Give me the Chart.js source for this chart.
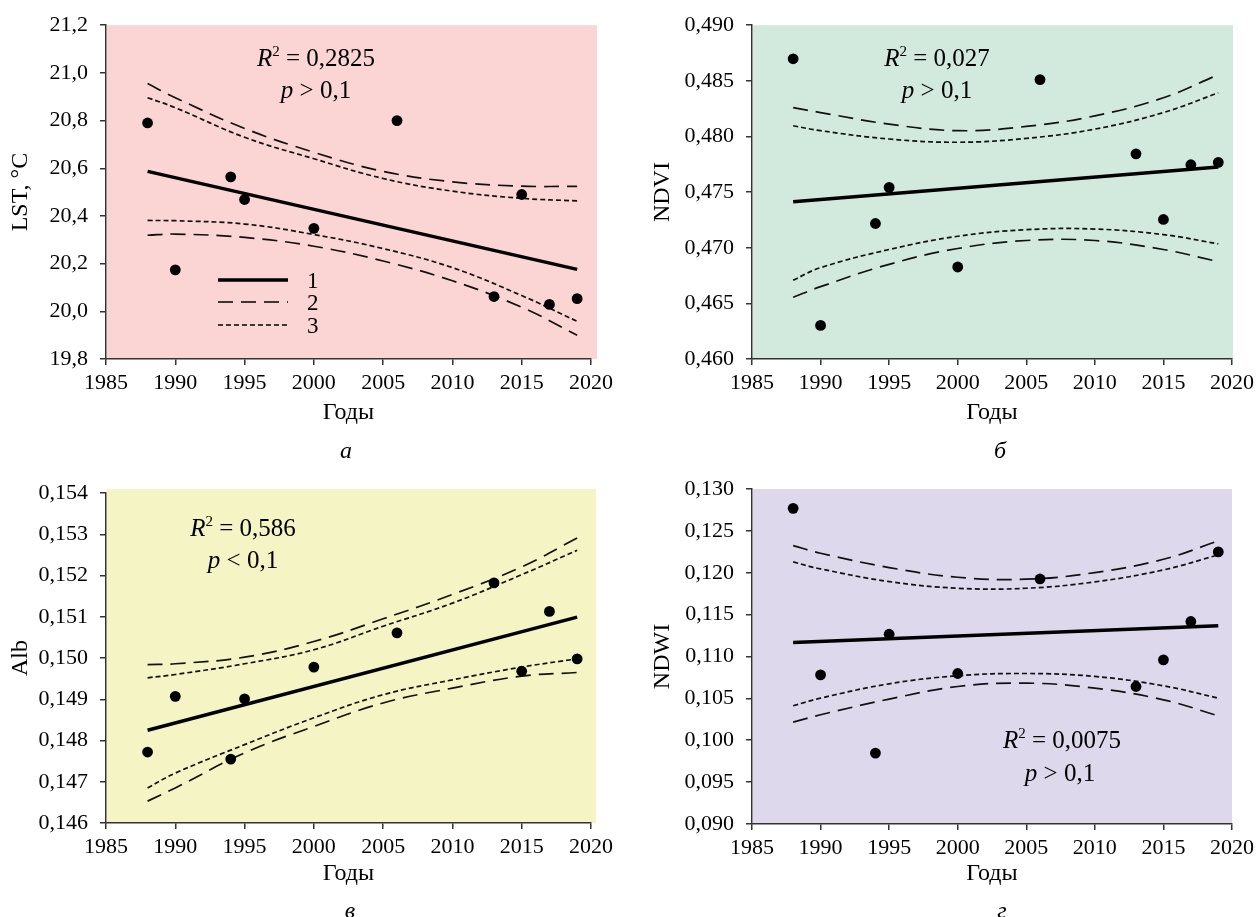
<!DOCTYPE html>
<html><head><meta charset="utf-8">
<script src="https://cdn.jsdelivr.net/npm/chart.js@4"></script>
<style>
body{margin:0;background:#fff;width:1259px;height:917px;overflow:hidden;position:relative}
canvas{position:absolute}
</style></head><body>
<canvas id="ca" width="630" height="460" style="left:0;top:0"></canvas>
<canvas id="cb" width="629" height="460" style="left:630px;top:0"></canvas>
<canvas id="cc" width="630" height="457" style="left:0;top:460px"></canvas>
<canvas id="cd" width="629" height="457" style="left:630px;top:460px"></canvas>
<script>
// ---------- DATA ----------
const years = [1988, 1990, 1994, 1995, 2000, 2006, 2013, 2015, 2017, 2019];
const trendYears = [1988, 2019];
const bandYears = [1988, 1990, 1995, 2000, 2005, 2010, 2015, 2019];
const xTicks = [1985, 1990, 1995, 2000, 2005, 2010, 2015, 2020];

const lstValues = [20.790, 20.174, 20.564, 20.469, 20.348, 20.800, 20.062, 20.490, 20.029, 20.053];
const lstTrend  = [20.587, 20.176];
const lstUpper2 = [20.955, 20.896, 20.767, 20.667, 20.587, 20.543, 20.525, 20.524];
const lstUpper3 = [20.896, 20.854, 20.730, 20.640, 20.557, 20.504, 20.474, 20.463];
const lstLower3 = [20.381, 20.380, 20.366, 20.322, 20.263, 20.183, 20.066, 19.958];
const lstLower2 = [20.319, 20.324, 20.310, 20.273, 20.211, 20.128, 20.017, 19.900];
const lstTicks  = [19.8, 20.0, 20.2, 20.4, 20.6, 20.8, 21.0, 21.2];

const ndviValues = [0.48698, 0.46302, 0.47218, 0.47542, 0.46827, 0.48511, 0.47844, 0.47254, 0.47746, 0.47767];
const ndviTrend  = [0.47414, 0.47725];
const ndviUpper2 = [0.48259, 0.48215, 0.48111, 0.48052, 0.48090, 0.48185, 0.48348, 0.48555];
const ndviUpper3 = [0.48096, 0.48052, 0.47977, 0.47948, 0.47983, 0.48066, 0.48215, 0.48392];
const ndviLower3 = [0.46709, 0.46821, 0.46984, 0.47103, 0.47162, 0.47168, 0.47118, 0.47035];
const ndviLower2 = [0.46555, 0.46650, 0.46851, 0.46993, 0.47065, 0.47065, 0.46984, 0.46875];
const ndviTicks  = [0.460, 0.465, 0.470, 0.475, 0.480, 0.485, 0.490];

const albValues = [0.14772, 0.14907, 0.14755, 0.14901, 0.14978, 0.15061, 0.15182, 0.14968, 0.15113, 0.14998];
const albTrend  = [0.148247, 0.15099];
const albUpper2 = [0.14984, 0.14986, 0.15002, 0.15040, 0.15095, 0.15154, 0.15221, 0.15291];
const albUpper3 = [0.14952, 0.14960, 0.14986, 0.15020, 0.15077, 0.15133, 0.15202, 0.15261];
const albLower3 = [0.14685, 0.14721, 0.14790, 0.14855, 0.14911, 0.14947, 0.14978, 0.14998];
const albLower2 = [0.14653, 0.14685, 0.14770, 0.14834, 0.14891, 0.14927, 0.14956, 0.14965];
const albTicks  = [0.146, 0.147, 0.148, 0.149, 0.150, 0.151, 0.152, 0.153, 0.154];

const ndwiValues = [0.12769, 0.10781, 0.09847, 0.11266, 0.10797, 0.11926, 0.10642, 0.10960, 0.11418, 0.12249];
const ndwiTrend  = [0.11167, 0.11366];
const ndwiUpper2 = [0.12324, 0.12233, 0.12062, 0.11946, 0.11923, 0.12002, 0.12161, 0.12380];
const ndwiUpper3 = [0.12129, 0.12046, 0.11895, 0.11815, 0.11815, 0.11891, 0.12034, 0.12213];
const ndwiLower3 = [0.10412, 0.10503, 0.10674, 0.10770, 0.10797, 0.10762, 0.10650, 0.10503];
const ndwiLower2 = [0.10217, 0.10304, 0.10491, 0.10642, 0.10682, 0.10622, 0.10483, 0.10292];
const ndwiTicks  = [0.090, 0.095, 0.100, 0.105, 0.110, 0.115, 0.120, 0.125, 0.130];

// ---------- RENDERING ----------
const SERIF = "'Liberation Serif', 'Times New Roman', serif";
Chart.defaults.font.family = SERIF;
Chart.defaults.color = '#000';

const pts = (xs, ys) => xs.map((x, i) => ({x: x, y: ys[i]}));

const bgPlugin = {
  id: 'bg',
  beforeDraw(chart, args, o) {
    const {ctx, chartArea: a} = chart;
    ctx.save();
    ctx.fillStyle = o.color;
    ctx.fillRect(a.left + 1, a.top - o.top, a.right - a.left - 1 + o.right, a.bottom - a.top + o.top);
    ctx.restore();
  }
};

function font(size, italic) { return (italic ? 'italic ' : '') + size + 'px ' + SERIF; }

function drawRich(ctx, segs, cx, base) {
  let total = 0;
  segs.forEach(s => { ctx.font = font(s.sup ? 15 : 25, s.i); s.w = ctx.measureText(s.t).width; total += s.w; });
  let x = cx - total / 2;
  ctx.textAlign = 'left'; ctx.textBaseline = 'alphabetic';
  segs.forEach(s => { ctx.font = font(s.sup ? 15 : 25, s.i); ctx.fillText(s.t, x, s.sup ? base - 10 : base); x += s.w; });
}

const textPlugin = {
  id: 'txt',
  afterDraw(chart, args, o) {
    const ctx = chart.ctx;
    ctx.save();
    ctx.fillStyle = '#000';
    drawRich(ctx, [{t: 'R', i: true}, {t: '2', sup: true}, {t: ' = ' + o.r2}], o.rx, o.ry);
    drawRich(ctx, [{t: 'p', i: true}, {t: ' ' + o.ps + ' 0,1'}], o.px, o.py);
    ctx.font = font(24, true);
    ctx.textAlign = 'center'; ctx.textBaseline = 'alphabetic';
    ctx.fillText(o.letter, o.lx, o.ly);
    if (o.legend) {
      const L = o.legend;
      const styles = [{w: 3.5, d: []}, {w: 1.7, d: [15, 8]}, {w: 1.7, d: [5, 3]}];
      ['1', '2', '3'].forEach((lab, k) => {
        const y = L.y[k];
        ctx.beginPath();
        ctx.setLineDash(styles[k].d);
        ctx.lineWidth = styles[k].w;
        ctx.strokeStyle = '#000';
        ctx.moveTo(L.x0, y); ctx.lineTo(L.x1, y); ctx.stroke();
        ctx.setLineDash([]);
        ctx.font = font(23, false);
        ctx.textAlign = 'left';
        ctx.fillText(lab, L.tx, y + 8);
      });
    }
    ctx.restore();
  }
};

function makeChart(id, c) {
  const el = document.getElementById(id);
  const W = el.width, H = el.height;
  const axisGrid = {display: true, drawOnChartArea: false, drawTicks: true, tickLength: 6, color: '#333', lineWidth: 1.5};
  const axisBorder = {display: true, color: '#333', width: 1.5};
  const band = (data, dash) => ({data: pts(bandYears, data), showLine: true, borderColor: '#111', borderWidth: 1.7,
    borderDash: dash, pointRadius: 0, tension: 0.4, fill: false});
  new Chart(el, {
    type: 'scatter',
    data: {
      datasets: [
        {data: pts(years, c.values), pointRadius: 5.4, pointBackgroundColor: '#000', pointBorderWidth: 0, showLine: false},
        {data: pts(trendYears, c.trend), showLine: true, borderColor: '#000', borderWidth: 3.5, pointRadius: 0},
        band(c.u2, [15, 8]), band(c.l2, [15, 8]),
        band(c.u3, [5, 3]), band(c.l3, [5, 3])
      ]
    },
    options: {
      responsive: false, animation: false, events: [],
      layout: {padding: {left: 0, top: c.top, right: W - c.right, bottom: H - c.bottom - c.xh}},
      plugins: {
        legend: {display: false}, tooltip: {enabled: false},
        bg: c.bg, txt: c.txt
      },
      scales: {
        x: {
          type: 'linear', min: 1985, max: 2020,
          afterBuildTicks: s => { s.ticks = xTicks.map(v => ({value: v})); },
          afterFit: s => { s.height = c.xh; },
          grid: axisGrid, border: axisBorder,
          ticks: {padding: 5, font: {size: 22}, color: '#000', maxRotation: 0, autoSkip: false, callback: v => String(v)},
          title: {display: true, text: 'Годы', font: {size: 24}, color: '#000', padding: {top: 0, bottom: 0}}
        },
        y: {
          type: 'linear', min: c.ticks[0], max: c.ticks[c.ticks.length - 1],
          afterBuildTicks: s => { s.ticks = c.ticks.map(v => ({value: v})); },
          afterFit: s => { s.width = c.left; },
          grid: axisGrid, border: axisBorder,
          ticks: {padding: 12, font: {size: 22}, color: '#000', autoSkip: false, callback: v => v.toFixed(c.dec).replace('.', ',')},
          title: {display: true, text: c.yTitle, font: {size: 24}, color: '#000', padding: {top: c.ytp, bottom: 0}}
        }
      }
    },
    plugins: [bgPlugin, textPlugin]
  });
}

makeChart('ca', {
  values: lstValues, trend: lstTrend, u2: lstUpper2, u3: lstUpper3, l3: lstLower3, l2: lstLower2, ticks: lstTicks, dec: 1,
  yTitle: 'LST, °C', ytp: 6, left: 106, right: 591, top: 22, bottom: 359, xh: 68,
  bg: {color: '#fbd4d4', top: 0, right: 6},
  txt: {r2: '0,2825', rx: 316, ry: 66, ps: '>', px: 316, py: 98, letter: 'а', lx: 346, ly: 458,
        legend: {x0: 218, x1: 288, y: [280, 302, 325], tx: 307}}
});
makeChart('cb', {
  values: ndviValues, trend: ndviTrend, u2: ndviUpper2, u3: ndviUpper3, l3: ndviLower3, l2: ndviLower2, ticks: ndviTicks, dec: 3,
  yTitle: 'NDVI', ytp: 18, left: 122, right: 602, top: 22, bottom: 359, xh: 68,
  bg: {color: '#d2eadd', top: 0, right: 1},
  txt: {r2: '0,027', rx: 307, ry: 66, ps: '>', px: 307, py: 98, letter: 'б', lx: 370, ly: 458}
});
makeChart('cc', {
  values: albValues, trend: albTrend, u2: albUpper2, u3: albUpper3, l3: albLower3, l2: albLower2, ticks: albTicks, dec: 3,
  yTitle: 'Alb', ytp: 6, left: 106, right: 591, top: 33, bottom: 363, xh: 65,
  bg: {color: '#f4f4c4', top: 4, right: 5},
  txt: {r2: '0,586', rx: 243, ry: 76, ps: '<', px: 243, py: 108, letter: 'в', lx: 350, ly: 458}
});
makeChart('cd', {
  values: ndwiValues, trend: ndwiTrend, u2: ndwiUpper2, u3: ndwiUpper3, l3: ndwiLower3, l2: ndwiLower2, ticks: ndwiTicks, dec: 3,
  yTitle: 'NDWI', ytp: 18, left: 122, right: 602, top: 29, bottom: 364, xh: 64,
  bg: {color: '#ddd8eb', top: 0, right: 0},
  txt: {r2: '0,0075', rx: 432, ry: 288, ps: '>', px: 430, py: 321, letter: 'г', lx: 372, ly: 458}
});
</script>
</body></html>
